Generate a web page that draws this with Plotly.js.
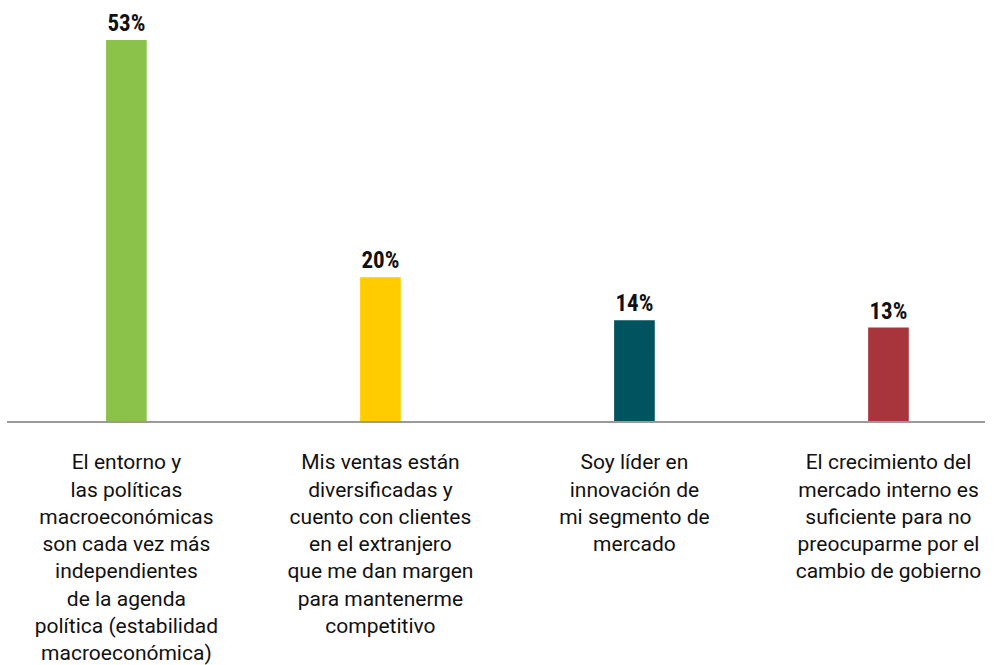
<!DOCTYPE html>
<html>
<head>
<meta charset="utf-8">
<script src="https://cdn.plot.ly/plotly-3.0.1.min.js"></script>
<style>html,body{margin:0;padding:0;background:#fff;}#chart{width:995px;height:665px;}</style>
</head>
<body>
<div id="chart"></div>
<script>
var categories = [
  "El entorno y<br>las políticas<br>macroeconómicas<br>son cada vez más<br>independientes<br>de la agenda<br>política (estabilidad<br>macroeconómica)",
  "Mis ventas están<br>diversificadas y<br>cuento con clientes<br>en el extranjero<br>que me dan margen<br>para mantenerme<br>competitivo",
  "Soy líder en<br>innovación de<br>mi segmento de<br>mercado",
  "El crecimiento del<br>mercado interno es<br>suficiente para no<br>preocuparme por el<br>cambio de gobierno"
];
var values = [53, 20, 14, 13];
var barColors = ["#8BC34A", "#FFCC00", "#00535F", "#A8343C"];

var condFam = "'Roboto Condensed', 'Liberation Sans Narrow', Roboto, sans-serif";
var labelFam = "Roboto, 'Liberation Sans', sans-serif";

var trace = {
  type: "bar",
  x: categories,
  y: values,
  marker: {color: barColors},
  width: 0.16,
  text: values.map(function(v){return v + "%";}),
  textposition: "outside",
  cliponaxis: false,
  textfont: {family: condFam, size: 23, color: "#111", weight: "bold"},
  hoverinfo: "none"
};

var layout = {
  width: 995, height: 665,
  margin: {l: 7, r: 10, t: 0, b: 244},
  paper_bgcolor: "#fff", plot_bgcolor: "#fff",
  showlegend: false,
  xaxis: {
    type: "category",
    range: [-0.47, 3.38],
    showgrid: false, zeroline: false,
    showline: true, linecolor: "#9a9a9a", linewidth: 2,
    ticks: "outside", ticklen: 21, tickcolor: "rgba(0,0,0,0)",
    tickangle: 0,
    tickfont: {family: labelFam, size: 21, color: "#111"}
  },
  yaxis: {
    range: [0, 58.55],
    visible: false, showgrid: false, zeroline: false
  }
};

Plotly.newPlot("chart", [trace], layout, {displayModeBar: false, staticPlot: true});
</script>
</body>
</html>
